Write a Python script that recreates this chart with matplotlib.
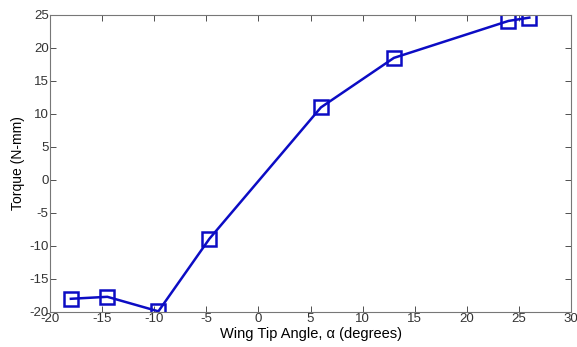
import matplotlib
matplotlib.use('Agg')
from matplotlib import pyplot as plt

# wing tip angle (degrees) and measured torque (N-mm)
angle = [-18.0, -14.5, -9.6, -4.7, 6.0, 13.0, 24.0, 26.0]
torque = [-18.0, -17.7, -19.9, -8.9, 11.0, 18.5, 24.1, 24.6]

x_ticks = [-20, -15, -10, -5, 0, 5, 10, 15, 20, 25, 30]
y_ticks = [-20, -15, -10, -5, 0, 5, 10, 15, 20, 25]

plt.rcParams['font.family'] = ['Liberation Sans', 'DejaVu Sans']
plt.rcParams['axes.unicode_minus'] = False

fig = plt.figure(figsize=(5.77, 3.47), dpi=100)
ax = fig.add_axes([0.0867, 0.1009, 0.9029, 0.8559])

ax.plot(angle, torque, color='#0c0cc4', linewidth=1.8, marker='s',
        markersize=9.5, markerfacecolor='none', markeredgecolor='#0c0cc4',
        markeredgewidth=1.8)

ax.set_xlim(-20, 30)
ax.set_ylim(-20, 25)
ax.set_xticks(x_ticks)
ax.set_yticks(y_ticks)
ax.tick_params(direction='in', top=True, right=True, labelsize=9.5,
               length=4, width=0.6, colors='#333333', pad=1)
for s in ax.spines.values():
    s.set_color('#777777')
    s.set_linewidth(0.8)

ax.set_xlabel('Wing Tip Angle, α (degrees)', fontsize=10.5, labelpad=1)
ax.set_ylabel('Torque (N-mm)', fontsize=10, labelpad=3)

fig.savefig('out.png', dpi=100)
